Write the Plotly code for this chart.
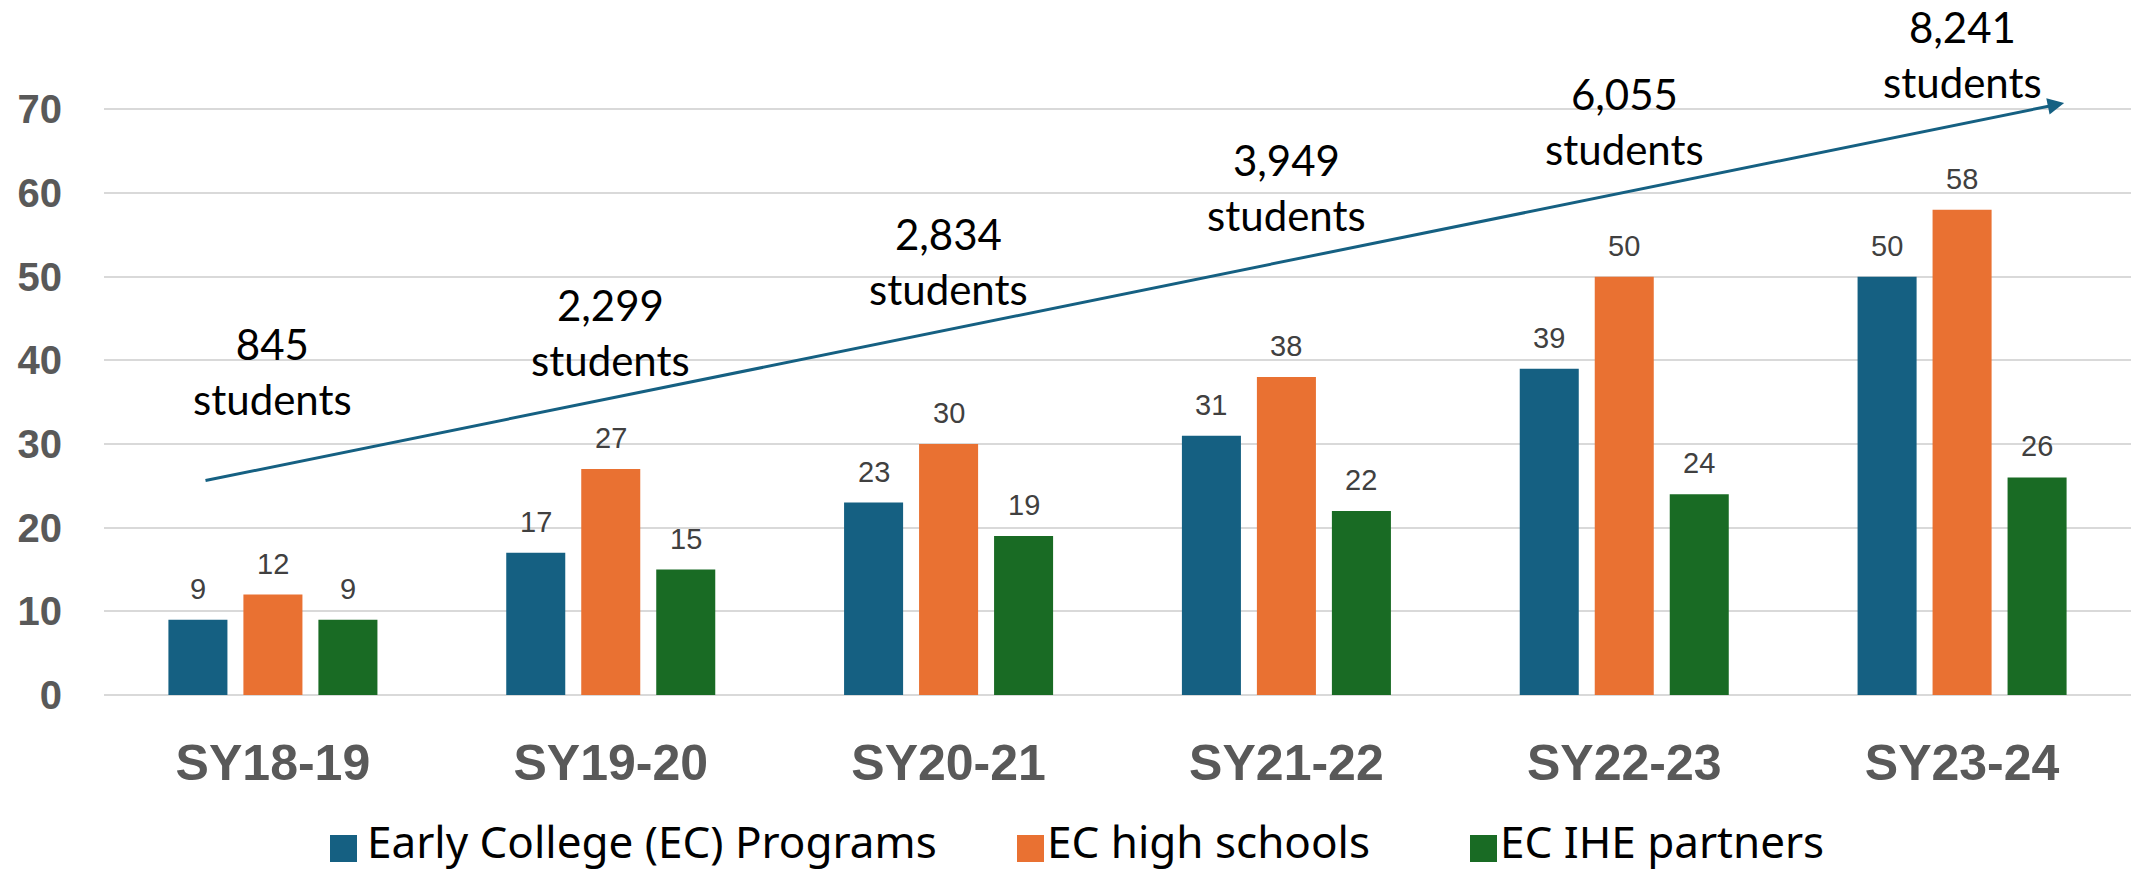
import plotly.graph_objects as go

# ---------------- data ----------------
categories = ["SY18-19", "SY19-20", "SY20-21", "SY21-22", "SY22-23", "SY23-24"]
series_names = ["Early College (EC) Programs", "EC high schools", "EC IHE partners"]
ec_programs = [9, 17, 23, 31, 39, 50]
ec_high_schools = [12, 27, 30, 38, 50, 58]
ec_ihe_partners = [9, 15, 19, 22, 24, 26]
student_counts = ["845", "2,299", "2,834", "3,949", "6,055", "8,241"]
y_ticks = [0, 10, 20, 30, 40, 50, 60, 70]

# ---------------- layout / style ----------------
W, H = 2131, 871
ML, MR, MT, MB = 104, 0, 106, 176
Y_MAX = 70.4
colors = ["#156082", "#E97132", "#196B24"]
BARGAP = 0.334
BARGROUPGAP = 0.213
AXIS_GRAY = "#595959"
GRID = "#d9d9d9"

# vertical placement of the "students" call-outs (axis units)
callout_y = [38.7, 43.3, 51.8, 60.7, 68.5, 76.6]
# trend arrow (axis units)
arrow_tail = (-0.204, 25.6)
arrow_head = (5.302, 70.75)

plot_w = W - ML - MR
plot_h = H - MT - MB


def px_to_paper(px, py):
    return (px - ML) / plot_w, (H - MB - py) / plot_h


fig = go.Figure()
series_values = [ec_programs, ec_high_schools, ec_ihe_partners]
for name, vals, col in zip(series_names, series_values, colors):
    fig.add_trace(go.Bar(
        x=categories, y=vals, name=name, marker=dict(color=col, line=dict(width=0)),
        showlegend=False, hoverinfo="x+y+name",
    ))

annotations = []
slot = (1 - BARGAP) / len(series_names)
# value labels above bars
for si, vals in enumerate(series_values):
    off = (si - (len(series_names) - 1) / 2) * slot
    for ci, v in enumerate(vals):
        annotations.append(dict(
            x=ci + off, y=v, xref="x", yref="y", text=str(v), showarrow=False,
            yanchor="bottom", xanchor="center", yshift=13,
            font=dict(family="Liberation Sans, Arial", size=29, color="#404040"),
        ))

# student call-outs (y given in axis units, converted to paper so they are never hidden)
for ci, (cnt, yy) in enumerate(zip(student_counts, callout_y)):
    annotations.append(dict(
        x=ci, y=yy / Y_MAX, xref="x", yref="paper", text=f"{cnt}<br>students", showarrow=False,
        xanchor="center", yanchor="middle", align="center",
        font=dict(family="Lato", size=42, color="#000000"),
    ))

# trend arrow
annotations.append(dict(
    x=arrow_head[0], y=arrow_head[1], ax=arrow_tail[0], ay=arrow_tail[1],
    xref="x", yref="y", axref="x", ayref="y", text="", showarrow=True,
    arrowhead=2, arrowsize=1.1, arrowwidth=3, arrowcolor="#156082",
))

# manual legend (large swatches)
shapes = []
legend_swatch_x = [330, 1017, 1470]
legend_text_x = [366, 1046, 1499]
sw_top, sw_bot = 835, 862
for name, col, sx, tx in zip(series_names, colors, legend_swatch_x, legend_text_x):
    x0, y0 = px_to_paper(sx, sw_bot)
    x1, y1 = px_to_paper(sx + 27, sw_top)
    shapes.append(dict(type="rect", xref="paper", yref="paper", x0=x0, x1=x1, y0=y0, y1=y1,
                       fillcolor=col, line=dict(width=0)))
    tx_p, ty_p = px_to_paper(tx, 841)
    annotations.append(dict(
        x=tx_p, y=ty_p, xref="paper", yref="paper", text=name, showarrow=False,
        xanchor="left", yanchor="middle", borderpad=0,
        font=dict(family="Noto Sans", size=44, color="#000000"),
    ))

fig.update_layout(
    width=W, height=H,
    margin=dict(l=ML, r=MR, t=MT, b=MB, pad=0, autoexpand=False),
    paper_bgcolor="white", plot_bgcolor="white",
    barmode="group", bargap=BARGAP, bargroupgap=BARGROUPGAP,
    showlegend=False,
    annotations=annotations, shapes=shapes,
    xaxis=dict(
        type="category", showgrid=False, showline=False, ticks="", zeroline=False,
        automargin=False,
        tickfont=dict(family="Liberation Sans, Arial", size=50, color=AXIS_GRAY, weight="bold"),
        ticklabelstandoff=34,
    ),
    yaxis=dict(
        range=[0, Y_MAX], tickvals=y_ticks, showgrid=True, gridcolor=GRID, gridwidth=2,
        zeroline=True, zerolinecolor=GRID, zerolinewidth=2, showline=False, ticks="",
        automargin=False,
        tickfont=dict(family="Liberation Sans, Arial", size=40, color=AXIS_GRAY, weight="bold"),
        ticklabelstandoff=41,
    ),
)

fig.write_html(
    "out.html",
    config={"displayModeBar": False},
    post_script="document.body.style.margin='0';document.body.style.overflow='hidden';",
)
